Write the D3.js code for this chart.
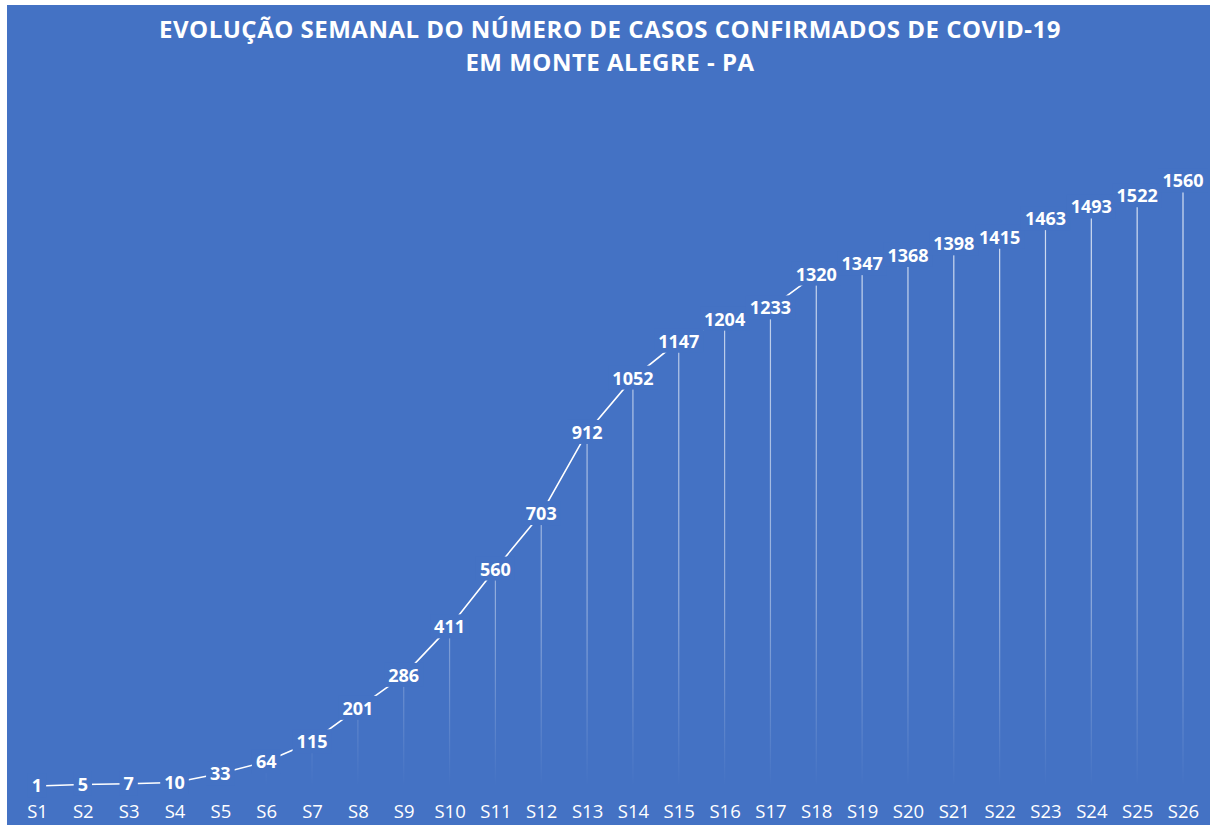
<!DOCTYPE html>
<html><head><meta charset="utf-8">
<script src="https://cdn.jsdelivr.net/npm/d3@7"></script>
<style>
html,body{margin:0;padding:0;background:#fff;}
svg{display:block;}
</style></head>
<body>
<script>
const categories = ["S1","S2","S3","S4","S5","S6","S7","S8","S9","S10","S11","S12","S13","S14","S15","S16","S17","S18","S19","S20","S21","S22","S23","S24","S25","S26"];
const cases = [1,5,7,10,33,64,115,201,286,411,560,703,912,1052,1147,1204,1233,1320,1347,1368,1398,1415,1463,1493,1522,1560];
const titleLines = ["EVOLUÇÃO SEMANAL DO NÚMERO DE CASOS CONFIRMADOS DE COVID-19","EM MONTE ALEGRE - PA"];

const W = 1213, H = 825;
const bg = "#4472C4";
const font = "'Open Sans', 'Noto Sans', sans-serif";

const svg = d3.select("body").append("svg").attr("width", W).attr("height", H);
svg.append("rect").attr("x", 7).attr("y", 5).attr("width", W - 10).attr("height", H - 5).attr("fill", bg);

const defs = svg.append("defs");
const grad = defs.append("linearGradient").attr("id", "dropFade")
  .attr("gradientUnits", "userSpaceOnUse").attr("x1", 0).attr("y1", 180).attr("x2", 0).attr("y2", 786);
grad.append("stop").attr("offset", "0%").attr("stop-color", "#fff").attr("stop-opacity", 0.8);
grad.append("stop").attr("offset", "70%").attr("stop-color", "#fff").attr("stop-opacity", 0.4);
grad.append("stop").attr("offset", "100%").attr("stop-color", "#fff").attr("stop-opacity", 0);

const x = d3.scalePoint().domain(categories).range([37, 1183]);
const y = d3.scaleLinear().domain([0, 1560]).range([786.4, 181]);

// title
svg.append("g").selectAll("text").data(titleLines).join("text")
  .attr("x", 610).attr("y", (d, i) => 38 + i * 33)
  .attr("text-anchor", "middle").attr("fill", "#fff")
  .attr("font-family", font).attr("font-weight", 700).attr("font-size", 24)
  .attr("letter-spacing", 0.5)
  .text(d => d);

const data = categories.map((c, i) => ({c, v: cases[i]}));

// drop lines
svg.append("g").selectAll("line").data(data).join("line")
  .attr("x1", d => x(d.c)).attr("x2", d => x(d.c))
  .attr("y1", d => y(d.v)).attr("y2", 786)
  .attr("stroke", "url(#dropFade)").attr("stroke-width", 1.2);

// line
svg.append("path").datum(data)
  .attr("fill", "none").attr("stroke", "#fff").attr("stroke-width", 1.6)
  .attr("d", d3.line().x(d => x(d.c)).y(d => y(d.v)));

// data labels with background
const lab = svg.append("g").selectAll("g").data(data).join("g")
  .attr("transform", d => `translate(${x(d.c)},${y(d.v)})`);
lab.append("text")
  .attr("text-anchor", "middle").attr("dy", "0.36em")
  .attr("fill", "#fff").attr("font-family", font).attr("font-weight", 700).attr("font-size", 18)
  .text(d => d.v);
lab.each(function() {
  const g = d3.select(this);
  const bb = g.select("text").node().getBBox();
  g.insert("rect", "text").attr("x", bb.x - 4).attr("y", bb.y)
    .attr("width", bb.width + 8).attr("height", bb.height).attr("fill", bg);
});

// x axis labels
const xAxis = d3.axisBottom(x).tickSize(0).tickPadding(0);
const ax = svg.append("g").attr("transform", "translate(0,805)").call(xAxis);
ax.select(".domain").remove();
ax.selectAll("text").attr("fill", "#fff").attr("font-family", font).attr("font-size", 18.5);
</script>
</body></html>
